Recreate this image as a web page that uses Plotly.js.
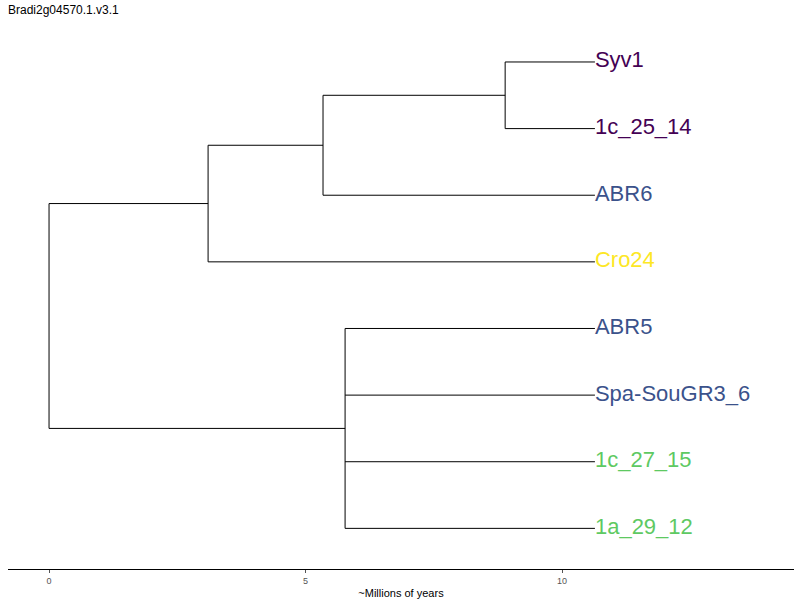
<!DOCTYPE html>
<html>
<head>
<meta charset="utf-8">
<script src="https://cdn.plot.ly/plotly-3.0.1.min.js"></script>
<style>body{margin:0}#tree{width:800px;height:600px}</style>
</head>
<body>
<div id="tree"></div>
<script>
// nodes of the tree: name, parent, age from root (~Myr)
var nodeNames = ['root', 'n1', 'n2', 'n3', 'n4',
  'Syv1', '1c_25_14', 'ABR6', 'Cro24', 'ABR5', 'Spa-SouGR3_6', '1c_27_15', '1a_29_12'];
var nodeParents = ['', 'root', 'n1', 'n2', 'root',
  'n3', 'n3', 'n2', 'n1', 'n4', 'n4', 'n4', 'n4'];
var nodeDepth = [0, 3.1, 5.34, 8.89, 5.77,
  10.64, 10.64, 10.64, 10.64, 10.64, 10.64, 10.64, 10.64];
var tipColors = {
  'Syv1': '#440154', '1c_25_14': '#440154', 'ABR6': '#3b528b', 'Cro24': '#fde725',
  'ABR5': '#3b528b', 'Spa-SouGR3_6': '#3b528b', '1c_27_15': '#5ec962', '1a_29_12': '#5ec962'
};

var idx = {};
nodeNames.forEach(function (n, i) { idx[n] = i; });
var children = nodeNames.map(function (n) {
  return nodeNames.filter(function (m, j) { return nodeParents[j] === n; });
});

// tips get consecutive rows, internal nodes the mean of their children
var rowY = {};
var row = 0;
function place(n) {
  var kids = children[idx[n]];
  if (kids.length === 0) { rowY[n] = row++; return rowY[n]; }
  var ys = kids.map(place);
  rowY[n] = ys.reduce(function (a, b) { return a + b; }, 0) / ys.length;
  return rowY[n];
}
place('root');

var lx = [], ly = [];
nodeNames.forEach(function (n, i) {
  var kids = children[i];
  if (nodeParents[i]) {
    lx.push(nodeDepth[idx[nodeParents[i]]], nodeDepth[i], null);
    ly.push(rowY[n], rowY[n], null);
  }
  if (kids.length) {
    var ys = kids.map(function (k) { return rowY[k]; });
    lx.push(nodeDepth[i], nodeDepth[i], null);
    ly.push(Math.min.apply(null, ys), Math.max.apply(null, ys), null);
  }
});

var tips = nodeNames.filter(function (n) { return children[idx[n]].length === 0; });

var branches = {
  x: lx, y: ly, type: 'scatter', mode: 'lines',
  line: {color: 'black', width: 1}, hoverinfo: 'skip', showlegend: false
};
var labels = {
  x: tips.map(function (t) { return nodeDepth[idx[t]]; }),
  y: tips.map(function (t) { return rowY[t]; }),
  text: tips, type: 'scatter', mode: 'text', textposition: 'middle right',
  textfont: {family: 'Liberation Sans, Arial, sans-serif', size: 22,
    color: tips.map(function (t) { return tipColors[t]; })},
  showlegend: false
};

var layout = {
  width: 800, height: 600,
  margin: {l: 8, r: 6, t: 20, b: 31},
  paper_bgcolor: 'white', plot_bgcolor: 'white',
  font: {family: 'Liberation Sans, Arial, sans-serif'},
  title: {text: 'Bradi2g04570.1.v3.1', x: 0.01, xanchor: 'left', y: 0.99, yanchor: 'top',
    font: {size: 12, color: 'black'}},
  xaxis: {range: [-0.8, 14.52], tickvals: [0, 5, 10], ticks: 'outside', ticklen: 3,
    tickcolor: '#555', tickfont: {size: 9, color: '#555'}, showgrid: false, zeroline: false,
    showline: true, linecolor: 'black', linewidth: 1,
    title: {text: '~Millions of years', font: {size: 11, color: 'black'}, standoff: 4}},
  yaxis: {range: [7.61, -0.63], visible: false, showgrid: false, zeroline: false}
};

Plotly.newPlot('tree', [branches, labels], layout, {displayModeBar: false});
</script>
</body>
</html>
